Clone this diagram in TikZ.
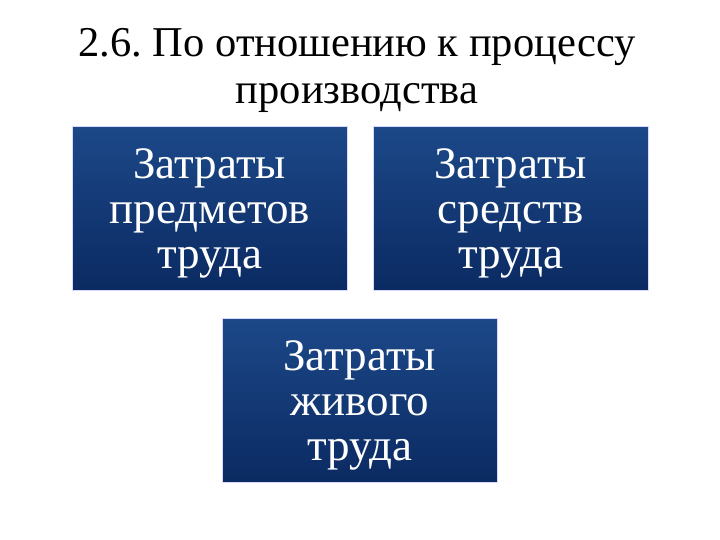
\documentclass[tikz,border=0pt]{standalone}
\usepackage{fontspec}
\setmainfont{Liberation Serif}
\begin{document}
\frenchspacing
\begin{tikzpicture}[x=1pt,y=-1pt,
  box/.style={draw=white!85!blue,line width=0.6pt,top color=boxtop,bottom color=boxbot,minimum width=275pt,minimum height=164pt,anchor=north west,inner sep=0pt},
  boxtext/.style={text=white,align=center,font=\fontsize{45}{45}\selectfont},
  titletext/.style={align=center,font=\fontsize{42.5}{47}\selectfont}]
\definecolor{boxtop}{HTML}{1C4888}
\definecolor{boxbot}{HTML}{0B2A62}
\useasboundingbox (0,0) rectangle (720,540);
\fill[white] (0,0) rectangle (720,540);
\node[titletext] (title) at (357,70) {2.6. По отношению к процессу\\производства};
\node[box] (b1) at (72,126) {};
\node[box] (b2) at (373,126) {};
\node[box] (b3) at (222,318) {};
\node[boxtext] (t1) at ([yshift=-5pt]b1.center) {Затраты\\предметов\\труда};
\node[boxtext] (t2) at ([yshift=-5pt]b2.center) {Затраты\\средств\\труда};
\node[boxtext] (t3) at ([yshift=-5pt]b3.center) {Затраты\\живого\\труда};
\end{tikzpicture}
\end{document}
